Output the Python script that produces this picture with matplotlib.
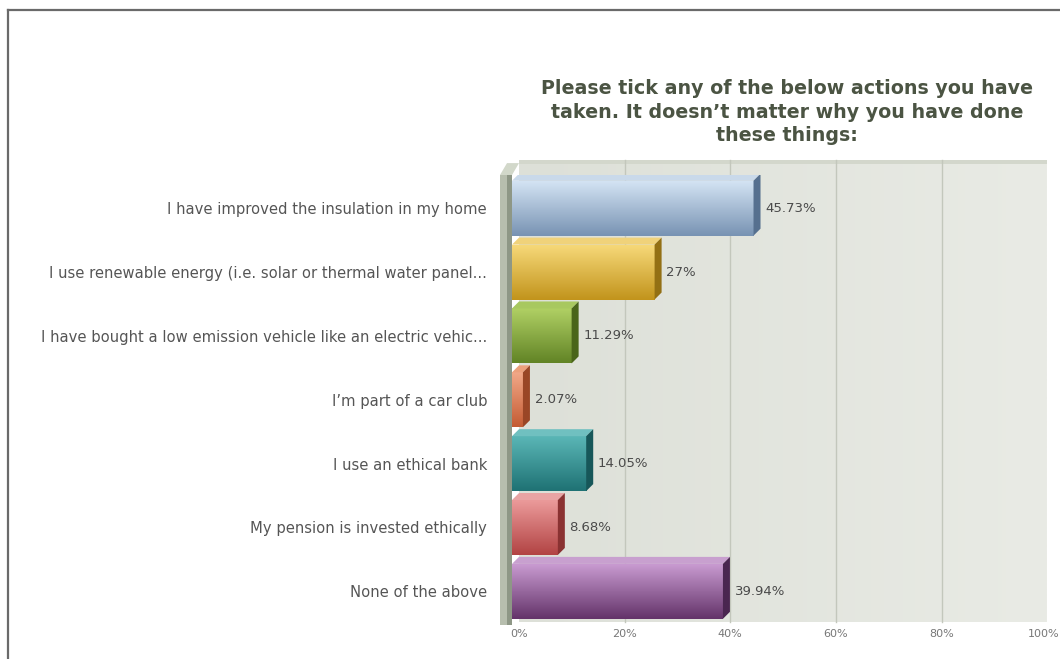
import matplotlib
matplotlib.use("Agg")
import matplotlib.pyplot as plt
import numpy as np
from matplotlib.colors import LinearSegmentedColormap
from matplotlib.patches import Polygon, Rectangle
from matplotlib.lines import Line2D

categories = [
    "I have improved the insulation in my home",
    "I use renewable energy (i.e. solar or thermal water panel...",
    "I have bought a low emission vehicle like an electric vehic...",
    "I\u2019m part of a car club",
    "I use an ethical bank",
    "My pension is invested ethically",
    "None of the above",
]
values = [45.73, 27, 11.29, 2.07, 14.05, 8.68, 39.94]
value_labels = ["45.73%", "27%", "11.29%", "2.07%", "14.05%", "8.68%", "39.94%"]
ticks = [0, 20, 40, 60, 80, 100]
tick_labels = ["0%", "20%", "40%", "60%", "80%", "100%"]
title = ("Please tick any of the below actions you have\n"
         "taken. It doesn\u2019t matter why you have done\n"
         "these things:")

# (light, dark, side, top) per bar
colors = [
    ("#d3e3f3", "#7893b3", "#56708f", "#c9d9ea"),
    ("#f6d878", "#c2941c", "#937014", "#f0d27a"),
    ("#b0d064", "#628426", "#4a651a", "#a8c860"),
    ("#f2a888", "#c45c34", "#9a4626", "#eca07c"),
    ("#5ab6b6", "#1f7274", "#175759", "#70c0c0"),
    ("#eb9a9a", "#b24444", "#8a3232", "#e8a4a4"),
    ("#c89ad0", "#64346a", "#4a2650", "#c8a0cf"),
]

W, H = 1060, 659
fig = plt.figure(figsize=(W / 100, H / 100), dpi=100)
fig.patch.set_facecolor("white")

ax_l, ax_r, ax_t, ax_b = 512, 1047, 175, 622
ax = fig.add_axes([ax_l / W, 1 - ax_b / H, (ax_r - ax_l) / W, (ax_b - ax_t) / H])
ax.set_facecolor("none")

n = len(categories)
xmax = 101.3
ax.set_xlim(0, xmax)
ax.set_ylim(n - 0.5, -0.5)

# depth of the 3D effect, converted from pixels to data units
px_x = (ax_r - ax_l) / xmax
px_y = (ax_b - ax_t) / n
dpx = 7
dx = dpx / px_x
dy = dpx / px_y

# back wall with a soft gradient
grad = np.linspace(0, 1, 256).reshape(1, -1)
wall_cmap = LinearSegmentedColormap.from_list("wall", ["#dde0d8", "#e9ebe5"])
wall = ax.imshow(grad, cmap=wall_cmap, aspect="auto",
                 extent=(dx, xmax, n - 0.5, -0.5 - 2.1 * dy), zorder=0)
wall.set_clip_on(False)
ax.add_patch(Polygon([(dx, -0.5 - 2.1 * dy), (xmax, -0.5 - 2.1 * dy),
                      (xmax, -0.5 - 1.6 * dy), (dx, -0.5 - 1.6 * dy)],
                     closed=True, facecolor="#d3d7cc", edgecolor="none", zorder=0.5,
                     clip_on=False))

for t in ticks[1:-1]:
    ax.plot([t + dx, t + dx], [n - 0.5, -0.5 - 2.1 * dy], color="#c3c7bc", lw=1, zorder=1,
            clip_on=False)

# left wall
ww = 12 / px_x
ax.add_patch(Rectangle((-ww, -0.5), ww, n + 0.05, facecolor="#8e9786",
                       edgecolor="none", zorder=2, clip_on=False))
ax.add_patch(Rectangle((-ww, -0.5), ww * 0.6, n + 0.05, facecolor="#b7beae",
                       edgecolor="none", zorder=2, clip_on=False))
ax.add_patch(Polygon([(-ww, -0.5), (0, -0.5), (dx, -0.5 - 1.7 * dy), (dx - ww, -0.5 - 1.7 * dy)],
                     closed=True, facecolor="#d2d8ca", edgecolor="none", zorder=2, clip_on=False))

ypos = np.arange(n)
bar_h = 0.86
shift = 0.02
bars = ax.barh(ypos + shift, values, height=bar_h, color=[c[1] for c in colors], zorder=3)

for bar, (light, dark, side, top), lab in zip(bars, colors, value_labels):
    x0 = bar.get_x()
    v = bar.get_width()
    y_top = bar.get_y()
    y_bot = bar.get_y() + bar.get_height()
    cmap = LinearSegmentedColormap.from_list("g", [light, dark])
    g = np.linspace(0, 1, 64).reshape(-1, 1)
    ax.imshow(g, cmap=cmap, aspect="auto", extent=(x0, x0 + v, y_bot, y_top), zorder=3.5)
    ax.add_patch(Polygon([(x0, y_top), (x0 + v, y_top), (x0 + v + dx, y_top - dy),
                          (x0 + dx, y_top - dy)], closed=True, facecolor=top,
                         edgecolor="none", zorder=3.6))
    ax.add_patch(Polygon([(x0 + v, y_top), (x0 + v + dx, y_top - dy),
                          (x0 + v + dx, y_bot - dy), (x0 + v, y_bot)], closed=True,
                         facecolor=side, edgecolor="none", zorder=3.6))
    ax.text(x0 + v + dx + 0.9, (y_top + y_bot) / 2, lab, va="center", ha="left",
            fontsize=9.5, color="#4a4a4a", zorder=5)

# tick labels sit under the back wall; the last one is pulled in a few pixels
tick_pos = [t + dx for t in ticks]
tick_pos[-1] -= 3.5 / px_x
ax.set_xticks(tick_pos)
ax.set_xticklabels(tick_labels, fontsize=8, color="#777777")
ax.set_yticks(ypos + shift)
ax.set_yticklabels(categories, fontsize=10.6, color="#555555")
ax.tick_params(axis="x", length=0, pad=5)
ax.tick_params(axis="y", length=0, pad=18)
for s in ax.spines.values():
    s.set_visible(False)

fig.text(787 / W, 1 - 112 / H, title, ha="center", va="center", fontsize=13.7,
         fontweight="bold", color="#4b5443", linespacing=1.3)

# outer frame
fig.add_artist(Line2D([7.5 / W, 7.5 / W], [0, 1 - 9.5 / H], color="#6a6a6a", lw=1.6))
fig.add_artist(Line2D([7.5 / W, 1], [1 - 9.5 / H, 1 - 9.5 / H], color="#6a6a6a", lw=1.6))

fig.savefig("out.png", dpi=100)
